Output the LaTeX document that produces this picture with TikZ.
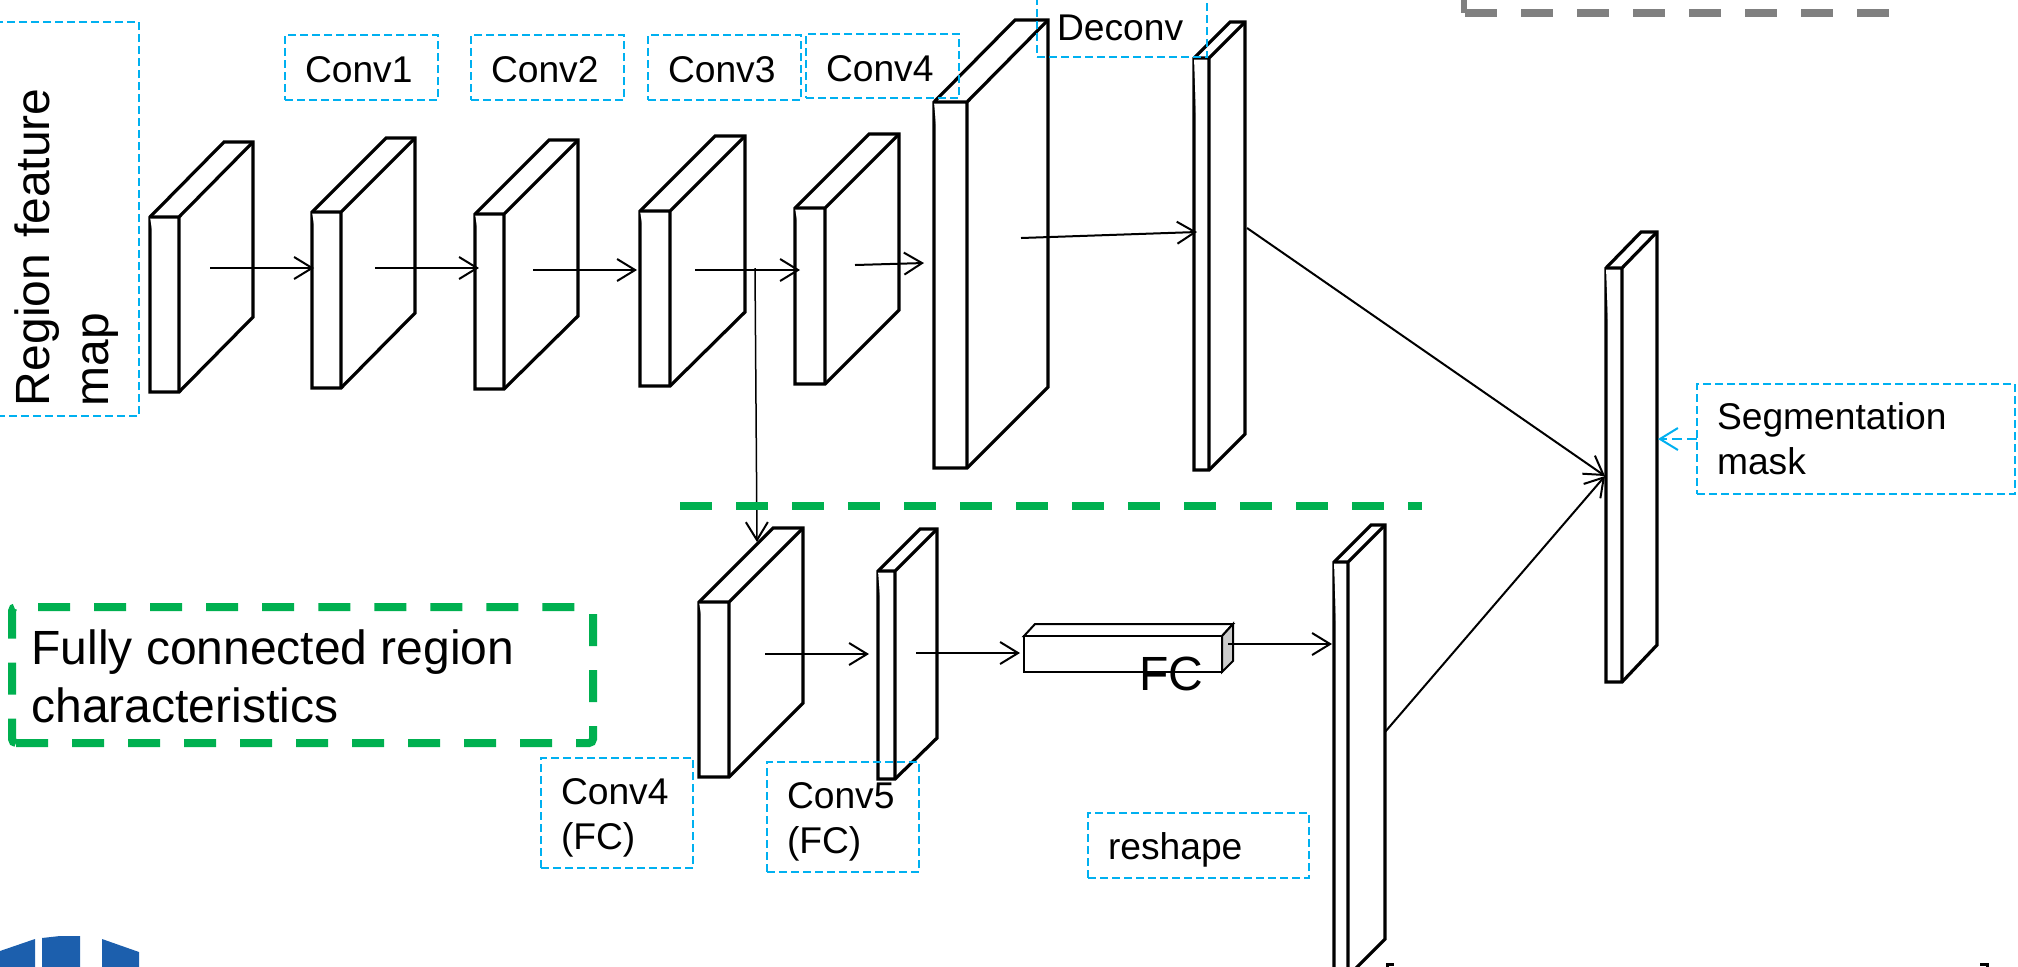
\documentclass[tikz,border=0pt]{standalone}
\usepackage{fontspec}
\setmainfont{Liberation Sans}
\usetikzlibrary{arrows.meta}
\definecolor{tagblue}{HTML}{00B0F0}
\definecolor{zonegreen}{HTML}{00B050}
\definecolor{zonegray}{HTML}{808080}
\definecolor{logoblue}{HTML}{1C5FAD}
\begin{document}
\begin{tikzpicture}[
  x=0.5pt,
  y=-0.5pt,
  line join=miter,
  >={Straight Barb[length=9pt,width=11pt,line width=1pt]},
  slab/.style={draw=black,fill=white,line width=1.6pt},
  link/.style={draw=black,line width=1pt,->},
  tag/.style 2 args={draw=tagblue,line width=1pt,dash pattern=on 4pt off 2pt,
    anchor=north west,inner xsep=10pt,inner ysep=0pt,outer sep=0pt,align=left,
    text width=#1*0.5pt-20pt,minimum height=#2*0.5pt,
    font=\fontsize{18.6}{22.5}\selectfont},
  drop/.style={execute at begin node={\rule{0pt}{#1pt}}},
  zone/.style={draw=#1,line width=4pt,dash pattern=on 16pt off 12pt},
  bigtext/.style={font=\fontsize{24}{29}\selectfont,inner sep=0pt}
]
  \clip (0,0) rectangle (2018,966);

  % Feature slabs: front x (2), back x, back top y, front y (2), back bottom y.
  \foreach \xa/\xb/\xc/\ya/\yb/\yc/\yd in {
    150/179/253/142/217/392/317,
    312/341/415/138/212/388/313,
    475/504/578/140/214/389/316,
    640/670/745/136/211/386/312,
    795/825/899/134/208/384/310,
    934/967/1048/20/102/468/387,
    1194/1209/1245/22/58/470/434,
    1606/1622/1657/232/268/682/645,
    699/729/803/528/602/777/703,
    878/895/937/529/571/779/738,
    1334/1348/1385/525/562/976/939} {
    \draw[slab] (\xa,\yb) -- ({\xc-\xb+\xa},\ya) -- (\xc,\ya) -- (\xc,\yd)
      -- (\xb,\yc) -- (\xa,\yc) -- cycle;
    \draw[slab] (\xa,\yb) -- (\xb,\yb) -- (\xb,\yc) (\xb,\yb) -- (\xc,\ya);
  }

  % FC block.
  \draw[line width=1pt,fill=white] (1024,636) -- (1035,624) -- (1233,624)
    -- (1222,636) -- cycle;
  \draw[line width=1pt,fill=black!20] (1222,636) -- (1233,624) -- (1233,661)
    -- (1222,672) -- cycle;
  \draw[line width=1pt,fill=white] (1024,636) rectangle (1222,672);
  \node[bigtext,anchor=base west] (fc) at (1139,690) {FC};

  % Connectors.
  \foreach \nm/\xs/\ys/\xe/\ye in {
    la/210/268/314/268,lb/375/268/479/268,lc/533/270/637/270,
    ld/695/270/800/270,le/855/265/924/263,lf/1021/238/1197/232,
    lg/765/654/869/654,lh/916/653/1020/653,li/1228/644/1332/644,
    lj/1247/228/1605/476,lk/1385/732/1605/476} {
    \coordinate (\nm s) at (\xs,\ys);
    \coordinate (\nm e) at (\xe,\ye);
    \draw[link] (\nm s) -- (\nm e);
  }
  \coordinate (branchs) at (755,268);
  \coordinate (branche) at (757,542);
  \draw[link,line width=0.75pt] (branchs) -- (branche);

  % Zone lines.
  \coordinate (splits) at (680,506);
  \coordinate (splite) at (1422,506);
  \draw[zone=zonegreen] (splits) -- (splite);
  \draw[zone=zonegreen,rounded corners=2pt] (12,743) -- (593,743) -- (593,607)
    -- (12,607) -- cycle;
  \node[bigtext,anchor=west,align=left] (fullyconn) at (31,676)
    {Fully connected region\\characteristics};
  \draw[zone=zonegray] (1465,13) -- (1889,13);
  \draw[zonegray,line width=3pt] (1464,-5) -- (1464,13);

  % Labels.
  \node[tag={394}{144},rotate=90,inner xsep=5pt,text width=187pt,
    font=\fontsize{24}{29.5}\selectfont] (region) at (-5,416)
    {Region feature\\map};
  \node[tag={153}{65},drop=14.8] (convone) at (285,35) {Conv1};
  \node[tag={153}{65},drop=14.8] (convtwo) at (471,35) {Conv2};
  \node[tag={153}{65},drop=14.8] (convthree) at (648,35) {Conv3};
  \node[tag={153}{64},drop=16] (convfour) at (806,34) {Conv4};
  \node[tag={170}{70},drop=18.6] (deconv) at (1037,-13) {Deconv};
  \node[tag={152}{110},drop=17.4] (convfourfc) at (541,758) {Conv4\\(FC)};
  \node[tag={152}{110},drop=17.4] (convfivefc) at (767,762) {Conv5\\(FC)};
  \node[tag={221}{65},drop=17.4] (reshape) at (1088,813) {reshape};
  \node[tag={318}{110}] (segmask) at (1697,384) {Segmentation\\mask};
  \draw[draw=tagblue,line width=1pt,dash pattern=on 5pt off 2.5pt,
    -{Straight Barb[length=9pt,width=11pt,line width=1pt]}]
    (segmask.west) -- (1658,439);

  % Page furniture cut off by the frame.
  \fill[logoblue] (0,951) -- (35,939) -- (35,970) -- (0,970) -- cycle;
  \fill[logoblue] (42,938) -- (60,936) -- (80,936) -- (80,970) -- (42,970) -- cycle;
  \fill[logoblue] (102,939) -- (139,952) -- (139,970) -- (102,970) -- cycle;
  \draw[line width=1.5pt] (1387,970) -- (1387,964) -- (1394,964);
  \draw[line width=1.5pt] (1980,964) -- (1987,964) -- (1987,970);
\end{tikzpicture}
\end{document}
